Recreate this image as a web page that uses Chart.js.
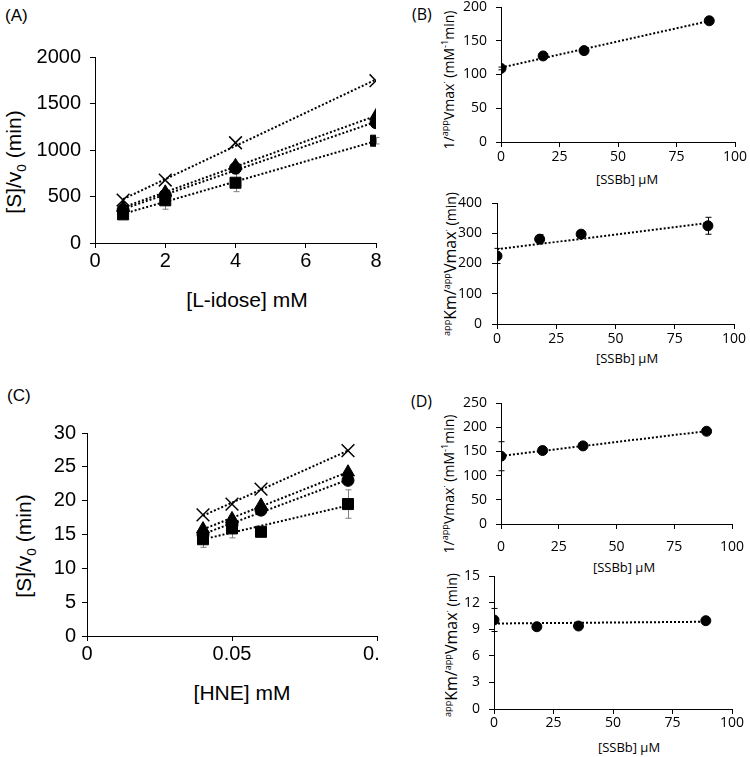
<!DOCTYPE html>
<html>
<head>
<meta charset="utf-8">
<script src="https://cdn.jsdelivr.net/npm/chart.js@4.4.0/dist/chart.umd.min.js"></script>
<style>
body { margin:0; width:750px; height:757px; background:#fff; position:relative; overflow:hidden; font-family:'Liberation Sans', Arial, sans-serif; color:#000; }
.box { position:absolute; overflow:hidden; }
.box canvas { position:absolute; }
.t { position:absolute; white-space:nowrap; line-height:1; }
.rot { transform:translate(-50%,-50%) rotate(-90deg); }
.ctr { transform:translate(-50%,-50%); }
.cal { font-family:'Open Sans', sans-serif; }
sup, sub { font-size:0.65em; line-height:0; }
</style>
</head>
<body>

<div class="t" style="left:5px;top:7px;font-size:17px">(A)</div>
<div class="t" style="left:7px;top:387px;font-size:17px">(C)</div>
<div class="t cal" style="left:412px;top:6px;font-size:16px">(B)</div>
<div class="t cal" style="left:411px;top:393px;font-size:16px">(D)</div>

<div class="t ctr" style="left:247px;top:299px;font-size:21px">[L-idose] mM</div>
<div class="t rot" style="left:13px;top:162px;font-size:21px">[S]/v<sub>0</sub> (min)</div>
<div class="t ctr" style="left:242px;top:692px;font-size:21px">[HNE] mM</div>
<div class="t rot" style="left:23px;top:546px;font-size:21px">[S]/v<sub>0</sub> (min)</div>

<div class="t cal ctr" style="left:627px;top:179px;font-size:13px">[SSBb] μM</div>
<div class="t cal rot" style="left:449px;top:80px;font-size:14px">1/<sup>app</sup>Vmax<sup>·</sup> (mM<sup>-1</sup>min)</div>
<div class="t cal ctr" style="left:627px;top:358px;font-size:13px">[SSBb] μM</div>
<div class="t cal rot" style="left:450px;top:264px;font-size:14px"><sup>app</sup><span style="font-size:16px">Km/</span><sup>app</sup><span style="font-size:16px">Vmax</span><sup>·</sup> (min)</div>
<div class="t cal ctr" style="left:624px;top:567px;font-size:13px">[SSBb] μM</div>
<div class="t cal rot" style="left:449px;top:484px;font-size:14px">1/<sup>app</sup>Vmax<sup>·</sup> (mM<sup>-1</sup>min)</div>
<div class="t cal ctr" style="left:629px;top:747px;font-size:13px">[SSBb] μM</div>
<div class="t cal rot" style="left:451px;top:645px;font-size:14px"><sup>app</sup><span style="font-size:16px">Km/</span><sup>app</sup><span style="font-size:16px">Vmax</span><sup>·</sup> (min)</div>

<script>
// (A) L-idose
const xIdose = [0.8, 2, 4, 8];
const idoseCross = [462, 677, 1078, 1745];
const idoseTri = [380, 545, 830, 1365];
const idoseCirc = [355, 516, 805, 1294];
const idoseSq = [308, 459, 648, 1100];
const idoseSqErr = [30, 96, 96, 35];
// trendline values at first / last x
const idoseFitCross = [472, 1758];
const idoseFitTri = [383, 1368];
const idoseFitCirc = [364, 1304];
const idoseFitSq = [313, 1096];

// (C) HNE
const xHne = [0.04, 0.05, 0.06, 0.09];
const hneCross = [17.9, 19.5, 21.7, 27.4];
const hneTri = [15.8, 17.3, 19.3, 24.2];
const hneCirc = [15.0, 16.5, 18.6, 23.0];
const hneSq = [14.3, 15.9, 15.4, 19.5];
const hneSqErr = [1.2, 1.4, 0.4, 2.1];
const hneFitCross = [17.78, 27.39];
const hneFitTri = [15.76, 24.23];
const hneFitCirc = [15.06, 23.1];
const hneFitSq = [14.28, 19.28];

// (B) / (D) secondary plots vs SSBb
const xSsbb = [0, 18, 35.5, 89];
const bVmax = [109, 127.5, 135.4, 179.6];
const bVmaxErr = [2, 3, 3, 5];
const bVmaxFit = [110.2, 179.3];
const bKm = [225, 280.5, 297, 324.7];
const bKmErr = [25, 15, 8, 28];
const bKmFit = [246.9, 334];
const dVmax = [140, 151.8, 161.4, 191.6];
const dVmaxErr = [30, 3, 3, 3];
const dVmaxFit = [140.7, 191.9];
const dKm = [10.04, 9.28, 9.36, 9.96];
const dKmErr = [1.3, 0.2, 0.2, 0.2];
const dKmFit = [9.64, 9.84];

const arial = { family: "'Liberation Sans', Arial, sans-serif", size: 20 };
const calib = { family: "'Open Sans', sans-serif", size: 14 };

const errorBars = {
  id: 'errorBars',
  beforeDatasetsDraw(chart) {
    const ctx = chart.ctx, xs = chart.scales.x, ys = chart.scales.y;
    chart.data.datasets.forEach(ds => {
      if (!ds.errors) return;
      ctx.save();
      ctx.strokeStyle = ds.errColor;
      ctx.lineWidth = 1;
      ds.data.forEach((p, j) => {
        const e = ds.errors[j];
        if (!e) return;
        const x = Math.round(xs.getPixelForValue(p.x)) + 0.5;
        const lo = ys.getPixelForValue(p.y - e), hi = ys.getPixelForValue(p.y + e);
        ctx.beginPath();
        ctx.moveTo(x, lo); ctx.lineTo(x, hi);
        ctx.moveTo(x - 3, lo); ctx.lineTo(x + 3, lo);
        ctx.moveTo(x - 3, hi); ctx.lineTo(x + 3, hi);
        ctx.stroke();
      });
      ctx.restore();
    });
  }
};

function axis(min, max, step, font, pad, size, horizontal) {
  return {
    type: 'linear', min: min, max: max,
    ticks: { stepSize: step, font: font, color: '#000', padding: pad, maxRotation: 0,
      callback: v => String(+v.toFixed(4)) },
    grid: { drawOnChartArea: false, drawTicks: true, tickLength: 5, color: '#000' },
    border: { color: '#000', width: 1 },
    afterFit: function (s) {
      if (horizontal) { s.height = size; s.paddingLeft = 0; s.paddingRight = 0; }
      else { s.width = size; s.paddingTop = 0; s.paddingBottom = 0; }
    }
  };
}

function marks(xs, ys, style, r, errs, errColor) {
  return {
    data: xs.map((x, i) => ({ x: x, y: ys[i] })),
    pointStyle: style, pointRadius: r, pointHoverRadius: r,
    backgroundColor: '#000', borderColor: '#000',
    borderWidth: style === 'crossRot' ? 1.5 : 1,
    showLine: false, errors: errs, errColor: errColor
  };
}

function fit(xs, ends) {
  return {
    data: [{ x: xs[0], y: ends[0] }, { x: xs[xs.length - 1], y: ends[1] }],
    showLine: true, pointRadius: 0, borderColor: '#000', borderWidth: 2,
    borderDash: [2, 2], fill: false
  };
}

// frame = canvas rect on page, area = chart area [l, t, r, b] on page, clip = visible rect
function panel(frame, area, clip, xAxis, yAxis, datasets) {
  const [fx, fy, fw, fh] = frame;
  const [cx, cy, cw, ch] = clip || frame;
  const box = document.createElement('div');
  box.className = 'box';
  Object.assign(box.style, { left: cx + 'px', top: cy + 'px', width: cw + 'px', height: ch + 'px' });
  const cv = document.createElement('canvas');
  cv.width = fw; cv.height = fh;
  Object.assign(cv.style, { left: (fx - cx) + 'px', top: (fy - cy) + 'px', width: fw + 'px', height: fh + 'px' });
  box.appendChild(cv);
  document.body.appendChild(box);

  const xs = axis(xAxis.min, xAxis.max, xAxis.step, xAxis.font, xAxis.pad, fy + fh - area[3], true);
  const ys = axis(yAxis.min, yAxis.max, yAxis.step, yAxis.font, yAxis.pad, area[0] - fx, false);
  xs.position = 'bottom';
  ys.position = 'left';

  new Chart(cv, {
    type: 'scatter',
    data: { datasets: datasets },
    options: {
      responsive: false, animation: false, devicePixelRatio: 1, events: [],
      layout: { padding: { left: 0, bottom: 0, top: area[1] - fy, right: fx + fw - area[2] } },
      plugins: { legend: { display: false }, tooltip: { enabled: false } },
      scales: { x: xs, y: ys }
    },
    plugins: [errorBars]
  });
}

const grey = '#7f7f7f';

panel([0, 30, 410, 245], [95, 57, 376, 243], [0, 0, 381, 380],
  { min: 0, max: 8, step: 2, font: arial, pad: 1 },
  { min: 0, max: 2000, step: 500, font: arial, pad: 9 },
  [
    marks(xIdose, idoseCross, 'crossRot', 9),
    marks(xIdose, idoseTri, 'triangle', 7.5),
    marks(xIdose, idoseCirc, 'circle', 6),
    marks(xIdose, idoseSq, 'rect', 7.8, idoseSqErr, grey),
    fit(xIdose, idoseFitCross), fit(xIdose, idoseFitTri),
    fit(xIdose, idoseFitCirc), fit(xIdose, idoseFitSq)
  ]);

panel([0, 410, 410, 260], [87, 433, 377, 636], [0, 380, 381, 377],
  { min: 0, max: 0.1, step: 0.05, font: arial, pad: 1 },
  { min: 0, max: 30, step: 5, font: arial, pad: 6 },
  [
    marks(xHne, hneCross, 'crossRot', 9),
    marks(xHne, hneTri, 'triangle', 7.5),
    marks(xHne, hneCirc, 'circle', 6),
    marks(xHne, hneSq, 'rect', 7.8, hneSqErr, grey),
    fit(xHne, hneFitCross), fit(xHne, hneFitTri),
    fit(xHne, hneFitCirc), fit(xHne, hneFitSq)
  ]);

panel([455, -10, 295, 180], [501, 7, 735, 142], null,
  { min: 0, max: 100, step: 25, font: calib, pad: 2 },
  { min: 0, max: 200, step: 50, font: calib, pad: 9 },
  [marks(xSsbb, bVmax, 'circle', 5, bVmaxErr, '#000'), fit(xSsbb, bVmaxFit)]);

panel([455, 185, 295, 165], [497, 203, 734, 324], null,
  { min: 0, max: 100, step: 25, font: calib, pad: 2 },
  { min: 0, max: 400, step: 100, font: calib, pad: 10 },
  [marks(xSsbb, bKm, 'circle', 5, bKmErr, '#000'), fit(xSsbb, bKmFit)]);

panel([455, 385, 295, 175], [501, 403, 732, 524], null,
  { min: 0, max: 100, step: 25, font: calib, pad: 10 },
  { min: 0, max: 250, step: 50, font: calib, pad: 9 },
  [marks(xSsbb, dVmax, 'circle', 5, dVmaxErr, '#000'), fit(xSsbb, dVmaxFit)]);

panel([455, 560, 295, 197], [494, 576, 732, 709], null,
  { min: 0, max: 100, step: 25, font: calib, pad: 1 },
  { min: 0, max: 15, step: 3, font: calib, pad: 9 },
  [marks(xSsbb, dKm, 'circle', 5, dKmErr, '#000'), fit(xSsbb, dKmFit)]);
</script>
</body>
</html>
